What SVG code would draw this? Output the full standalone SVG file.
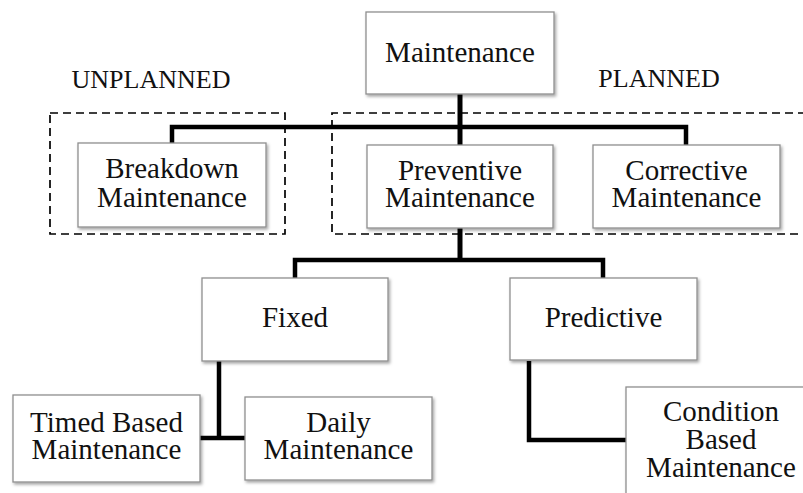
<svg xmlns="http://www.w3.org/2000/svg" width="803" height="493" viewBox="0 0 803 493">
<style>
.box{fill:#fff;stroke:#8f8f8f;stroke-width:1.3;filter:url(#sh)}
.t{font-family:"Liberation Serif","Times New Roman",serif;font-size:29px;fill:#111;text-anchor:middle}
.lbl{font-family:"Liberation Serif","Times New Roman",serif;font-size:26px;fill:#111;text-anchor:middle}
.con{fill:none;stroke:#000;stroke-width:4.5;stroke-linejoin:miter;stroke-linecap:butt}
.dash{fill:none;stroke:#000;stroke-width:1.7;stroke-dasharray:8 5}
</style>
<defs>
<filter id="sh" x="-10%" y="-10%" width="125%" height="130%">
<feDropShadow dx="1.5" dy="2" stdDeviation="1.5" flood-color="#000" flood-opacity="0.35"/>
</filter>
</defs>
<rect width="803" height="493" fill="#fff"/>
<g id="groups">
<rect class="dash" x="50" y="113" width="235" height="121"/>
<path class="dash" d="M806,113 H332 V234 H806"/>
<text class="lbl" x="151" y="88">UNPLANNED</text>
<text class="lbl" x="659" y="87">PLANNED</text>
</g>
<g id="connectors">
<path class="con" d="M460,94 V145" style="stroke-width:5"/>
<path class="con" d="M172,143 V127 H686 V145"/>
<path class="con" d="M460,228 V260" style="stroke-width:5"/>
<path class="con" d="M295,278 V260 H603 V278"/>
<path class="con" d="M219,361 V438"/>
<path class="con" d="M200,438 H245"/>
<path class="con" d="M529,361 V440 H626"/>
</g>
<g id="maintenance"><rect class="box" x="366" y="12" width="188" height="82"/><text class="t" x="460" y="62">Maintenance</text></g>
<g id="breakdown"><rect class="box" x="78" y="143" width="188" height="84"/><text class="t" x="172" y="178">Breakdown</text><text class="t" x="172" y="206.5">Maintenance</text></g>
<g id="preventive"><rect class="box" x="367" y="145" width="186" height="83"/><text class="t" x="460" y="180">Preventive</text><text class="t" x="460" y="206.5">Maintenance</text></g>
<g id="corrective"><rect class="box" x="593" y="145" width="187" height="83"/><text class="t" x="686.5" y="180">Corrective</text><text class="t" x="686.5" y="206.5">Maintenance</text></g>
<g id="fixed"><rect class="box" x="202" y="278" width="186" height="83"/><text class="t" x="295" y="327">Fixed</text></g>
<g id="predictive"><rect class="box" x="510" y="278" width="187" height="82"/><text class="t" x="603.5" y="327">Predictive</text></g>
<g id="timed"><rect class="box" x="13" y="395" width="187" height="87"/><text class="t" x="106.5" y="431.5">Timed Based</text><text class="t" x="106.5" y="459">Maintenance</text></g>
<g id="daily"><rect class="box" x="245" y="397" width="187" height="83"/><text class="t" x="338.5" y="431.5">Daily</text><text class="t" x="338.5" y="459">Maintenance</text></g>
<g id="condition"><rect class="box" x="626" y="387" width="190" height="120"/><text class="t" x="721" y="421">Condition</text><text class="t" x="721" y="449">Based</text><text class="t" x="721" y="477">Maintenance</text></g>
</svg>
